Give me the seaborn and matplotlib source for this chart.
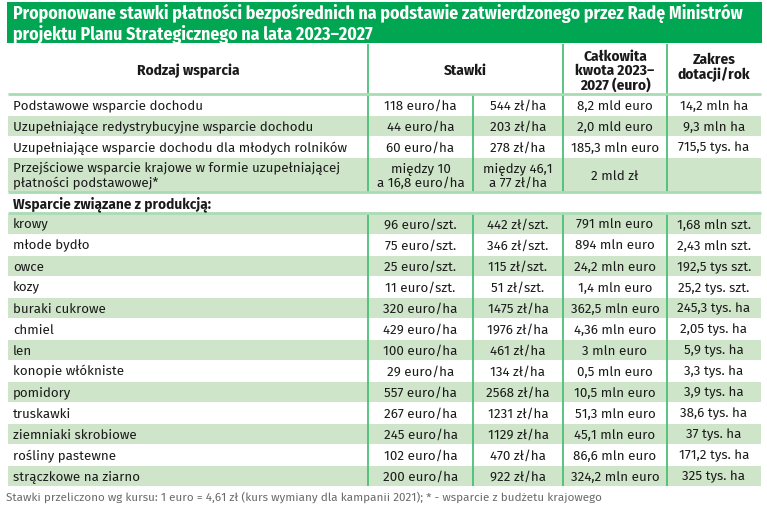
import matplotlib
matplotlib.use("Agg")
import matplotlib.pyplot as plt
import seaborn as sns
from matplotlib import font_manager
from matplotlib.patches import Rectangle

# Table content
title = ("Proponowane stawki płatności bezpośrednich na podstawie zatwierdzonego przez Radę Ministrów\n"
         "projektu Planu Strategicznego na lata 2023–2027")
headers = ["Rodzaj wsparcia", "Stawki", "Całkowita\nkwota 2023–\n2027 (euro)", "Zakres\ndotacji/rok"]

top_names = ["Podstawowe wsparcie dochodu",
             "Uzupełniające redystrybucyjne wsparcie dochodu",
             "Uzupełniające wsparcie dochodu dla młodych rolników",
             "Przejściowe wsparcie krajowe w formie uzupełniającej\npłatności podstawowej*"]
top_euro = ["118 euro/ha", "44 euro/ha", "60 euro/ha", "między 10\na 16,8 euro/ha"]
top_zl = ["544 zł/ha", "203 zł/ha", "278 zł/ha", "między 46,1\na 77 zł/ha"]
top_total = ["8,2 mld euro", "2,0 mld euro", "185,3 mln euro", "2 mld zł"]
top_range = ["14,2 mln ha", "9,3 mln ha", "715,5 tys. ha", ""]

section = "Wsparcie związane z produkcją:"
prod_names = ["krowy", "młode bydło", "owce", "kozy", "buraki cukrowe", "chmiel", "len",
              "konopie włókniste", "pomidory", "truskawki", "ziemniaki skrobiowe",
              "rośliny pastewne", "strączkowe na ziarno"]
prod_euro = ["96 euro/szt.", "75 euro/szt.", "25 euro/szt.", "11 euro/szt.", "320 euro/ha",
             "429 euro/ha", "100 euro/ha", "29 euro/ha", "557 euro/ha", "267 euro/ha",
             "245 euro/ha", "102 euro/ha", "200 euro/ha"]
prod_zl = ["442 zł/szt.", "346 zł/szt.", "115 zł/szt.", "51 zł/szt.", "1475 zł/ha", "1976 zł/ha",
           "461 zł/ha", "134 zł/ha", "2568 zł/ha", "1231 zł/ha", "1129 zł/ha", "470 zł/ha", "922 zł/ha"]
prod_total = ["791 mln euro", "894 mln euro", "24,2 mln euro", "1,4 mln euro", "362,5 mln euro",
              "4,36 mln euro", "3 mln euro", "0,5 mln euro", "10,5 mln euro", "51,3 mln euro",
              "45,1 mln euro", "86,6 mln euro", "324,2 mln euro"]
prod_range = ["1,68 mln szt.", "2,43 mln szt.", "192,5 tys szt.", "25,2 tys. szt.", "245,3 tys. ha",
              "2,05 tys. ha", "5,9 tys. ha", "3,3 tys. ha", "3,9 tys. ha", "38,6 tys. ha",
              "37 tys. ha", "171,2 tys. ha", "325 tys. ha"]

footnote = ("Stawki przeliczono wg kursu: 1 euro = 4,61 zł (kurs wymiany dla kampanii 2021); "
            "* - wsparcie z budżetu krajowego")

sns.set_theme(style="white")

available = {f.name for f in font_manager.fontManager.ttflist}
def pick(*names):
    for n in names:
        if n in available:
            return n
    return "DejaVu Sans"

body_font = pick("Fira Sans", "Open Sans", "Lato", "Roboto")
head_font = pick("Fira Sans Condensed", "Roboto Condensed", "Open Sans Condensed", "Fira Sans", "Roboto")
plt.rcParams["font.family"] = [body_font, "DejaVu Sans"]

GREEN = "#00a651"
LIGHT = "#cfe5c9"
VLINE = "#3dbb6e"
HLINE = "#a9dbb4"
TEXT = "#1a1a1a"

fig = plt.figure(figsize=(7.67, 5.10), dpi=100)
ax = fig.add_axes([0, 0, 1, 1])
ax.set_xlim(0, 767)
ax.set_ylim(510, 0)
ax.axis("off")

# column boundaries (pixels in the layout grid)
col_x = [8, 368, 473, 563, 667, 761]
col_mid = [(a + b) / 2 for a, b in zip(col_x[:-1], col_x[1:])]

# title band
ax.add_patch(Rectangle((7, 3), 755, 41, color=GREEN, lw=0))
ax.text(13, 24, title, color="white", fontsize=12.8, fontweight="bold", family=head_font,
        va="center", ha="left", linespacing=1.08)

# header
hy0, hy1 = 45, 95
hmid = (hy0 + hy1) / 2
hsize = 10.9
ax.text(col_mid[0], hmid + 1, headers[0], ha="center", va="center", fontsize=hsize,
        fontweight="bold", family=head_font, color=TEXT)
ax.text((col_x[1] + col_x[3]) / 2, hmid + 1, headers[1], ha="center", va="center", fontsize=hsize,
        fontweight="bold", family=head_font, color=TEXT)
ax.text(col_mid[3], hmid + 1, headers[2], ha="center", va="center", fontsize=hsize,
        fontweight="bold", family=head_font, color=TEXT, linespacing=1.0)
ax.text(col_mid[4], hmid - 3, headers[3], ha="center", va="center", fontsize=hsize,
        fontweight="bold", family=head_font, color=TEXT, linespacing=1.0)
for x in [col_x[1], col_x[3], col_x[4]]:
    ax.vlines(x, hy0, hy1, color=VLINE, lw=1.2)

# build row layout: (top, height, cells, shaded)
rows = []
y = 95
row_h = 21
for i, name in enumerate(top_names):
    h = 35 if "\n" in name else row_h
    rows.append((y, h, [name, top_euro[i], top_zl[i], top_total[i], top_range[i]], i % 2 == 1))
    y += h
top_end = y
sec_y = y
y += row_h
prod_start = y
for i, name in enumerate(prod_names):
    rows.append((y, row_h, [name, prod_euro[i], prod_zl[i], prod_total[i], prod_range[i]], i % 2 == 0))
    y += row_h
prod_end = y

for top, h, cells, shaded in rows:
    if shaded:
        ax.add_patch(Rectangle((col_x[0], top + 0.5), col_x[-1] - col_x[0], h - 1, color=LIGHT, lw=0))
    ymid = top + h / 2 + 0.5
    ax.text(col_x[0] + 5, ymid, cells[0], ha="left", va="center", fontsize=9.6,
            color=TEXT, linespacing=1.15)
    for j in range(1, 5):
        ax.text(col_mid[j], ymid, cells[j], ha="center", va="center", fontsize=9.6,
                color=TEXT, linespacing=1.1)

# grid lines
for x in col_x[1:5]:
    ax.vlines(x, 95, top_end, color=VLINE, lw=1.2)
    ax.vlines(x, prod_start, prod_end, color=VLINE, lw=1.2)
for yy in [95, top_end, prod_start]:
    ax.hlines(yy, col_x[0], col_x[-1], color=HLINE, lw=2)

# section label
ax.text(col_x[0] + 5, sec_y + row_h / 2 + 1, section, ha="left", va="center", fontsize=9.9,
        fontweight="bold", family=body_font, color=TEXT)

# footnote
ax.text(col_x[0] - 2, prod_end + 10, footnote, ha="left", va="center", fontsize=8.45, color="#6b6b6b")

fig.savefig("out.png", dpi=100)
